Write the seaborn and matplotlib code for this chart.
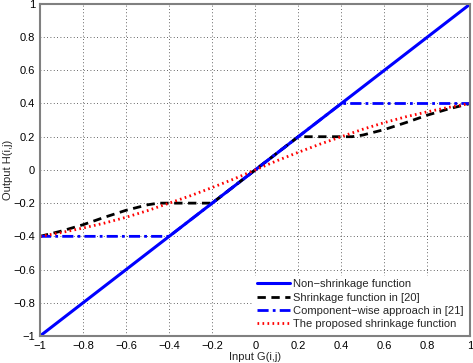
import numpy as np
import pandas as pd
import matplotlib
matplotlib.use("Agg")
import matplotlib.pyplot as plt
import seaborn as sns

# 곡선 데이터
x_identity = [-1.0, 1.0]
y_identity = [-1.0, 1.0]

x_shrink20 = [-1.0, -0.9, -0.8, -0.7, -0.6, -0.5, -0.45, -0.2,
              0.2, 0.45, 0.5, 0.6, 0.7, 0.8, 0.9, 1.0]
y_shrink20 = [-0.4, -0.368, -0.33, -0.285, -0.243, -0.21, -0.2, -0.2,
              0.2, 0.2, 0.21, 0.243, 0.285, 0.33, 0.368, 0.4]

x_comp21 = [-1.0, -0.4, 0.4, 1.0]
y_comp21 = [-0.4, -0.4, 0.4, 0.4]

x_proposed = [-1.0, -0.9, -0.8, -0.7, -0.6, -0.5, -0.4, -0.3, -0.2, -0.1, 0.0,
              0.1, 0.2, 0.3, 0.4, 0.5, 0.6, 0.7, 0.8, 0.9, 1.0]
y_proposed = [-0.4, -0.377, -0.35, -0.32, -0.285, -0.245, -0.2, -0.155, -0.106, -0.055, 0.0,
              0.055, 0.106, 0.155, 0.2, 0.245, 0.285, 0.32, 0.35, 0.377, 0.4]

labels = ["Non\u2212shrinkage function",
          "Shrinkage function in [20]",
          "Component\u2212wise approach in [21]",
          "The proposed shrinkage function"]

sns.set_style("white")
plt.rcParams["font.family"] = ["Liberation Sans", "DejaVu Sans"]
plt.rcParams["axes.unicode_minus"] = True

fig = plt.figure(figsize=(4.73, 3.63), dpi=100)
ax = fig.add_axes([0.0846, 0.0744, 0.910, 0.915])

sns.lineplot(x=x_identity, y=y_identity, ax=ax, color="#0000ff", lw=2.2,
             label=labels[0], sort=False)
sns.lineplot(x=x_shrink20, y=y_shrink20, ax=ax, color="black", lw=2,
             label=labels[1], sort=False, linestyle=(0, (3, 2)))
sns.lineplot(x=x_comp21, y=y_comp21, ax=ax, color="#0000ff", lw=2,
             label=labels[2], sort=False, linestyle=(0, (4, 1.5, 1, 1.5)))
sns.lineplot(x=x_proposed, y=y_proposed, ax=ax, color="#ff0000", lw=2,
             label=labels[3], sort=False, linestyle=(0, (0.6, 1.2)))

ax.set_xlim(-1, 1)
ax.set_ylim(-1, 1)
ax.set_xticks(np.arange(-1, 1.01, 0.2))
ax.set_yticks(np.arange(-1, 1.01, 0.2))
fmt = lambda v: "0" if abs(v) < 1e-9 else ("%g" % round(v, 1)).replace("-", "\u2212")
ax.set_xticklabels([fmt(v) for v in ax.get_xticks()])
ax.set_yticklabels([fmt(v) for v in ax.get_yticks()])
ax.grid(True, linestyle=(0, (1, 3)), color="black", lw=0.6, alpha=0.8)
ax.tick_params(direction="in", length=3, labelsize=8, colors="black", width=0.8)
for s in ax.spines.values():
    s.set_color("#808080")
    s.set_linewidth(1.5)

ax.set_xlabel("Input G(i,j)", fontsize=8, labelpad=1)
ax.set_ylabel("Output H(i,j)", fontsize=8, labelpad=0.5)

leg = ax.legend(loc="lower right", fontsize=8, handlelength=3.0,
                frameon=True, fancybox=False, borderaxespad=0.3,
                labelspacing=0.3, handletextpad=0.3, borderpad=0.3)
leg.get_frame().set_edgecolor("white")
leg.get_frame().set_alpha(1)

fig.savefig("out.png", dpi=100)
